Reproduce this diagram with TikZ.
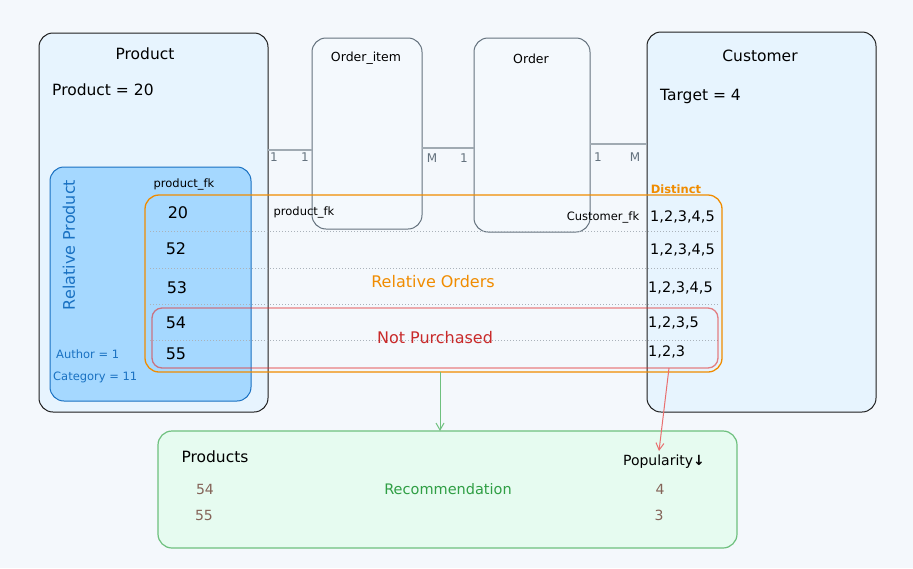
\documentclass[tikz,border=0pt]{standalone}
\usepackage{fontspec}
\setmainfont{DejaVu Sans}
\usetikzlibrary{arrows.meta}
\definecolor{bgc}{RGB}{244,248,252}
\definecolor{lblue}{RGB}{231,244,254}
\definecolor{rpfill}{RGB}{165,216,255}
\definecolor{rpline}{RGB}{25,113,194}
\definecolor{ordfill}{RGB}{244,249,253}
\definecolor{ordline}{RGB}{100,114,126}
\definecolor{darkline}{RGB}{30,30,30}
\definecolor{orng}{RGB}{240,140,0}
\definecolor{redc}{RGB}{224,49,49}
\definecolor{redtxt}{RGB}{201,42,42}
\definecolor{grnline}{RGB}{110,192,126}
\definecolor{grnfill}{RGB}{230,251,240}
\definecolor{grntxt}{RGB}{47,158,68}
\definecolor{brownc}{RGB}{132,99,88}
\definecolor{connc}{RGB}{160,170,178}
\definecolor{dotc}{RGB}{170,178,186}
\tikzset{
  box/.style={draw, rounded corners=14pt, inner sep=0pt, outer sep=0pt, line width=1pt},
  conn/.style={draw=connc, line width=1.3pt},
  card/.style={font=\fontsize{12}{14}\selectfont, text=ordline, inner sep=1pt},
  title/.style={font=\fontsize{15.5}{18}\selectfont, inner sep=1pt},
  small/.style={font=\fontsize{11.5}{13}\selectfont, inner sep=1pt},
  num/.style={font=\fontsize{16}{18}\selectfont, inner sep=1pt},
  rnum/.style={font=\fontsize{14}{16}\selectfont, inner sep=1pt, text=brownc},
  vals/.style={font=\fontsize{14.5}{16}\selectfont, inner sep=1pt, anchor=west},
  big/.style={font=\fontsize{16}{18}\selectfont, inner sep=1pt},
  rowline/.style={draw=dotc, dotted, line width=1pt},
}
\begin{document}
\begin{tikzpicture}[x=1pt,y=-1pt]
\useasboundingbox[fill=bgc] (0,0) rectangle (913,568);
% main boxes
\node[box, draw=darkline, fill=lblue, minimum width=229pt, minimum height=379pt] (prod) at (153.5,222.5) {};
\node[box, draw=darkline, fill=lblue, minimum width=229pt, minimum height=380pt] (cust) at (761.5,222) {};
\node[box, draw=rpline, fill=rpfill, minimum width=201pt, minimum height=234pt] (relp) at (150.5,284) {};
\node[box, draw=ordline, fill=ordfill, minimum width=110pt, minimum height=191pt] (oi) at (367,133.5) {};
\node[box, draw=ordline, fill=ordfill, minimum width=116pt, minimum height=194pt] (ord) at (532,135) {};
% titles
\node[title] (tprod) at (145,54) {Product};
\node[title, anchor=west] (pv) at (51,90) {Product = 20};
\node[small, font=\fontsize{12.5}{14}\selectfont] (toi) at (366,58) {Order\_item};
\node[small, font=\fontsize{12.5}{14}\selectfont] (tord) at (531,59) {Order};
\node[title] (tcust) at (760,56) {Customer};
\node[title, anchor=west] (tv) at (659,96) {Target = 4};
% relative product texts
\node[big, text=rpline, rotate=90] (trp) at (69,245) {Relative Product};
\node[small, text=rpline, anchor=west] (au) at (55,354) {Author = 1};
\node[small, text=rpline, anchor=west] (ca) at (52,377) {Category = 11};
\node[small] (pfk1) at (184,184) {product\_fk};
% connectors
\coordinate (y1) at (0,150);
\coordinate (y2) at (0,148);
\coordinate (y3) at (0,144);
\draw[conn] (prod.east |- y1) -- (oi.west |- y1);
\draw[conn] (oi.east |- y2) -- (ord.west |- y2);
\draw[conn] (ord.east |- y3) -- (cust.west |- y3);
\node[card] (m1) at (274,157) {1};
\node[card] (m2) at (305,157) {1};
\node[card] (m3) at (432,158) {M};
\node[card] (m4) at (464,158) {1};
\node[card] (m5) at (598,157) {1};
\node[card] (m6) at (635,157) {M};
% dotted row separators
\foreach \yy/\nm in {231/a,268/b,304/c,340/d} {
  \coordinate (l\nm) at (150,\yy);
  \coordinate (r\nm) at (718,\yy);
  \draw[rowline] (l\nm) -- (r\nm);
}
% orange and red boxes
\node[box, draw=orng, line width=1.3pt, minimum width=577pt, minimum height=177pt] (relo) at (433.5,283.5) {};
\node[box, draw=redc, draw opacity=0.6, line width=1.3pt, rounded corners=10pt, minimum width=566pt, minimum height=60pt] (notp) at (435,338) {};
\node[font=\bfseries\fontsize{11.5}{13}\selectfont, text=orng, inner sep=0pt] (dist) at (676,189) {Distinct};
\node[small] (pfk2) at (304,212) {product\_fk};
\node[small] (cfk) at (603,217) {Customer\_fk};
% row values
\node[num] (n20) at (178,213) {20};
\node[num] (n52) at (176,249) {52};
\node[num] (n53) at (177,288) {53};
\node[num] (n54) at (176,323) {54};
\node[num] (n55) at (176,354) {55};
\node[vals] (v1) at (649,217) {1,2,3,4,5};
\node[vals] (v2) at (649,250) {1,2,3,4,5};
\node[vals] (v3) at (647,288) {1,2,3,4,5};
\node[vals] (v4) at (647,323) {1,2,3,5};
\node[vals] (v5) at (647,352) {1,2,3};
\node[big, text=orng] (tro) at (433,282) {Relative Orders};
\node[big, text=redtxt] (tnp) at (435,338) {Not Purchased};
% recommendation
\node[box, draw=grnline, fill=grnfill, line width=1.2pt, minimum width=579pt, minimum height=117pt] (reco) at (447.5,489.5) {};
\node[title] (tps) at (215,457) {Products};
\node[title, font=\fontsize{14}{16}\selectfont] (tpop) at (664,462) {Popularity{\bfseries ↓}};
\node[rnum] (r54) at (205,489) {54};
\node[rnum] (r55) at (204,515) {55};
\node[font=\fontsize{14.5}{16}\selectfont, text=grntxt] (trec) at (448,489) {Recommendation};
\node[rnum] (p4) at (660,489) {4};
\node[rnum] (p3) at (659,515) {3};
% arrows
\coordinate (ga) at (440,0);
\draw[draw=grnline, line width=1pt, -{Straight Barb[length=7pt,width=8pt]}] (relo.south -| ga) -- (reco.north -| ga);
\coordinate (ra) at (669,0);
\coordinate (rt) at (659,451);
\draw[draw=redc!70, line width=1pt, -{Straight Barb[length=7pt,width=8pt]}] (notp.south -| ra) -- (rt);
\end{tikzpicture}
\end{document}
